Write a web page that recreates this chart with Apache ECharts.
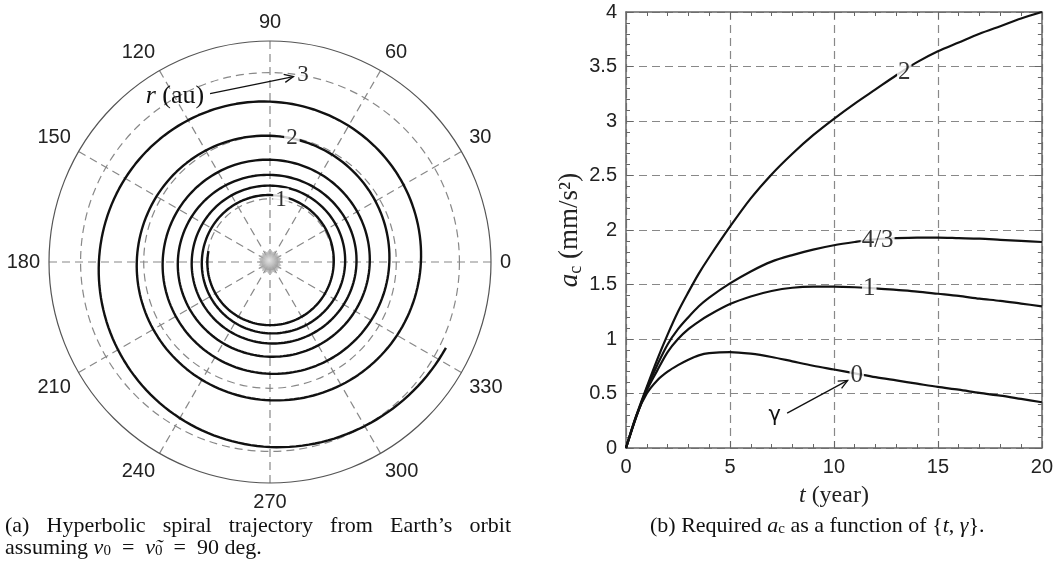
<!DOCTYPE html>
<html>
<head>
<meta charset="utf-8">
<script src="https://cdn.jsdelivr.net/npm/echarts@6/dist/echarts.min.js"></script>
<style>
html, body { margin: 0; padding: 0; background: #fff; }
#main { width: 1056px; height: 575px; }
</style>
</head>
<body>
<div id="main"></div>
<script>
// (a) 螺旋轨迹, 大致每 90 度读一个半径 (au)
var spiralAngle = [170, 225, 270, 0, 90, 180, 270, 0, 90, 180, 270, 0, 90, 180, 270, 0, 90, 180, 270, 0, 90, 180, 270, 0, 90, 180, 270, 300, 334];
var spiralR = [0.99, 1.00, 1.00, 1.01, 1.06, 1.08, 1.13, 1.19, 1.21, 1.24, 1.29, 1.37, 1.38, 1.46, 1.50, 1.58, 1.62, 1.70, 1.77, 1.89, 2.00, 2.11, 2.19, 2.39, 2.54, 2.71, 2.93, 3.00, 3.10];
var ringLabels = ['1', '2', '3'];
var ringR = [1, 2, 3];
var ringAngle = [80, 80, 80];

// (b) a_c (mm/s^2) 随 t (year)
var tYear = [0, 0.5, 1, 1.5, 2, 2.5, 3, 3.5, 4, 5, 6, 7, 8, 9, 10, 11, 12, 13, 14, 15, 16, 17, 18, 19, 20];
var acG2 = [0, 0.30, 0.56, 0.81, 1.04, 1.25, 1.43, 1.60, 1.75, 2.03, 2.29, 2.51, 2.70, 2.87, 3.02, 3.16, 3.29, 3.42, 3.54, 3.64, 3.72, 3.80, 3.87, 3.94, 4.00];
var acG43 = [0, 0.29, 0.55, 0.76, 0.95, 1.09, 1.20, 1.30, 1.38, 1.51, 1.62, 1.71, 1.77, 1.82, 1.86, 1.89, 1.915, 1.925, 1.93, 1.93, 1.925, 1.92, 1.91, 1.90, 1.89];
var acG1 = [0, 0.29, 0.53, 0.71, 0.88, 1.00, 1.09, 1.16, 1.22, 1.32, 1.39, 1.44, 1.47, 1.48, 1.48, 1.475, 1.465, 1.45, 1.435, 1.415, 1.395, 1.37, 1.35, 1.325, 1.30];
var acG0 = [0, 0.30, 0.50, 0.62, 0.70, 0.76, 0.81, 0.85, 0.87, 0.88, 0.865, 0.835, 0.795, 0.755, 0.72, 0.685, 0.65, 0.62, 0.59, 0.56, 0.535, 0.505, 0.48, 0.45, 0.42];
var gammaNames = ['2', '4/3', '1', '0'];
var gammaLabelT = [13.38, 12.1, 11.7, 11.1];
var gammaLabelA = [3.45, 1.90, 1.46, 0.67];

var SANS = 'Liberation Sans';
var SERIF = 'Liberation Serif';

function zip(xs, ys) {
    var out = [];
    for (var i = 0; i < xs.length; i++) {
        out.push([xs[i], ys[i]]);
    }
    return out;
}

// 太阳的锯齿形
function sunPath() {
    var n = 22, s = 'path://';
    for (var i = 0; i < n * 2; i++) {
        var r = i % 2 === 0 ? 10 : 8.2;
        var a = Math.PI * i / n;
        s += (i === 0 ? 'M' : 'L') + (r * Math.cos(a)).toFixed(2) + ',' + (r * Math.sin(a)).toFixed(2);
    }
    return s + 'Z';
}

// 螺旋线: 在角度上做 Hermite 平滑, 坐标交给 polar 换算
function renderSpiral(params, api) {
    if (params.dataIndex !== 0) return null;
    var th = [], acc = 0;
    for (var i = 0; i < spiralAngle.length; i++) {
        var a = spiralAngle[i] + acc;
        if (i > 0 && a < th[i - 1]) { acc += 360; a += 360; }
        th.push(a);
    }
    var n = th.length, m = [];
    for (var i = 0; i < n; i++) {
        var i0 = Math.max(0, i - 1), i1 = Math.min(n - 1, i + 1);
        m.push((spiralR[i1] - spiralR[i0]) / (th[i1] - th[i0]));
    }
    var pts = [];
    for (var i = 0; i < n - 1; i++) {
        var d = th[i + 1] - th[i];
        var steps = Math.max(2, Math.ceil(d / 2));
        for (var k = (i === 0 ? 0 : 1); k <= steps; k++) {
            var s = k / steps, s2 = s * s, s3 = s2 * s;
            var r = (2 * s3 - 3 * s2 + 1) * spiralR[i] + (s3 - 2 * s2 + s) * d * m[i] +
                (-2 * s3 + 3 * s2) * spiralR[i + 1] + (s3 - s2) * d * m[i + 1];
            pts.push(api.coord([r, (th[i] + s * d) % 360]));
        }
    }
    return {
        type: 'polyline',
        shape: { points: pts },
        style: { stroke: '#111', lineWidth: 2.4, fill: null, lineJoin: 'round' }
    };
}

var myChart = echarts.init(document.getElementById('main'));

var dashed = [8, 5];
var frameColor = '#666';

var curveSeries = [acG2, acG43, acG1, acG0].map(function (arr, k) {
    return {
        name: 'g' + gammaNames[k],
        type: 'line',
        xAxisIndex: 0,
        yAxisIndex: 0,
        data: zip(tYear, arr),
        smooth: 0.3,
        showSymbol: false,
        symbol: 'none',
        lineStyle: { color: '#111', width: 2.2 },
        z: 3
    };
});

var curveLabelData = [];
for (var i = 0; i < gammaNames.length; i++) {
    curveLabelData.push({ value: [gammaLabelT[i], gammaLabelA[i]], name: gammaNames[i] });
}

var option = {
    animation: false,
    backgroundColor: '#fff',
    polar: { center: [270, 262], radius: 221 },
    angleAxis: {
        type: 'value', min: 0, max: 360, interval: 30,
        startAngle: 0, clockwise: false,
        axisLine: { lineStyle: { color: '#555', width: 1.2 } },
        axisTick: { show: false },
        axisLabel: {
            fontFamily: SANS, fontSize: 20, color: '#222', margin: 9,
            formatter: function (v) { return v === 360 ? '' : v; }
        },
        splitLine: { show: true, lineStyle: { color: '#888', type: dashed, width: 1.2 } }
    },
    radiusAxis: {
        type: 'value', min: 0, max: 3.5, interval: 1,
        axisLine: { show: false }, axisTick: { show: false }, axisLabel: { show: false },
        splitLine: {
            show: true,
            lineStyle: { color: ['#888', '#888', '#888', '#888', 'rgba(0,0,0,0)'], type: dashed, width: 1.2 }
        }
    },
    grid: { left: 626, top: 12, width: 417, height: 436 },
    xAxis: [{
        type: 'value', min: 0, max: 20, interval: 5, position: 'bottom',
        axisLine: { onZero: false, lineStyle: { color: frameColor, width: 1.5 } },
        axisTick: { inside: true, length: 7, lineStyle: { color: frameColor } },
        minorTick: { show: true, splitNumber: 5, length: 4, lineStyle: { color: frameColor } },
        axisLabel: { fontFamily: SANS, fontSize: 20, color: '#222', margin: 9 },
        splitLine: { show: true, lineStyle: { color: '#888', type: dashed, width: 1.2 } },
        name: '{i|t} (year)', nameLocation: 'middle', nameGap: 36,
        nameTextStyle: {
            fontFamily: SERIF, fontSize: 24, color: '#222',
            rich: { i: { fontFamily: SERIF, fontStyle: 'italic', fontSize: 24, color: '#222' } }
        }
    }, {
        type: 'value', min: 0, max: 20, interval: 5, position: 'top',
        axisLine: { onZero: false, lineStyle: { color: frameColor, width: 1.5 } },
        axisTick: { inside: true, length: 7, lineStyle: { color: frameColor } },
        minorTick: { show: true, splitNumber: 5, length: 4, lineStyle: { color: frameColor } },
        axisLabel: { show: false },
        splitLine: { show: false }
    }],
    yAxis: [{
        type: 'value', min: 0, max: 4, interval: 0.5, position: 'left',
        axisLine: { onZero: false, lineStyle: { color: frameColor, width: 1.5 } },
        axisTick: { inside: true, length: 7, lineStyle: { color: frameColor } },
        minorTick: { show: true, splitNumber: 5, length: 4, lineStyle: { color: frameColor } },
        axisLabel: { fontFamily: SANS, fontSize: 20, color: '#222', margin: 9 },
        splitLine: { show: true, lineStyle: { color: '#888', type: dashed, width: 1.2 } },
        name: '{i|a}{s|c} (mm/s²)', nameLocation: 'middle', nameGap: 38, nameRotate: 90,
        nameTextStyle: {
            fontFamily: SERIF, fontSize: 27, color: '#222',
            rich: {
                i: { fontFamily: SERIF, fontStyle: 'italic', fontSize: 27, color: '#222', lineHeight: 31 },
                s: { fontFamily: SERIF, fontSize: 18, color: '#222', verticalAlign: 'bottom', lineHeight: 18 }
            }
        }
    }, {
        type: 'value', min: 0, max: 4, interval: 0.5, position: 'right',
        axisLine: { onZero: false, lineStyle: { color: frameColor, width: 1.5 } },
        axisTick: { inside: true, length: 7, lineStyle: { color: frameColor } },
        minorTick: { show: true, splitNumber: 5, length: 4, lineStyle: { color: frameColor } },
        axisLabel: { show: false },
        splitLine: { show: false }
    }],
    series: [{
        name: 'spiral',
        type: 'custom',
        coordinateSystem: 'polar',
        data: zip(spiralR, spiralAngle),
        renderItem: renderSpiral,
        z: 3
    }, {
        name: 'sunRays',
        type: 'scatter',
        coordinateSystem: 'polar',
        data: [[0, 0]],
        symbol: sunPath(),
        symbolSize: 24,
        itemStyle: { color: '#aaa' },
        z: 4
    }, {
        name: 'sun',
        type: 'scatter',
        coordinateSystem: 'polar',
        data: [[0, 0]],
        symbol: 'circle',
        symbolSize: 17,
        itemStyle: {
            color: {
                type: 'radial', x: 0.45, y: 0.4, r: 0.6,
                colorStops: [{ offset: 0, color: '#ececec' }, { offset: 1, color: '#9a9a9a' }]
            }
        },
        z: 5
    }, {
        name: 'rings',
        type: 'scatter',
        coordinateSystem: 'polar',
        data: ringLabels.map(function (s, i) { return { value: [ringR[i], ringAngle[i]], name: s }; }),
        symbolSize: 0,
        label: {
            show: true, position: 'inside', formatter: '{b}',
            fontFamily: SERIF, fontSize: 23, color: '#000',
            backgroundColor: '#fff', padding: [0, 2]
        },
        z: 6
    }].concat(curveSeries).concat([{
        name: 'gammaLabels',
        type: 'scatter',
        xAxisIndex: 0,
        yAxisIndex: 0,
        data: curveLabelData,
        symbolSize: 0,
        label: {
            show: true, position: 'inside', formatter: '{b}',
            fontFamily: SERIF, fontSize: 25, color: '#000',
            backgroundColor: '#fff', padding: [0, 1]
        },
        z: 6
    }])
};

myChart.setOption(option);

// 箭头和说明文字
function arrow(p0, p1) {
    var ang = Math.atan2(p1[1] - p0[1], p1[0] - p0[0]);
    var L = 10, w = 0.42;
    var st = { stroke: '#111', lineWidth: 1.3, fill: null };
    return [
        { type: 'polyline', shape: { points: [p0, p1] }, style: st, z: 10 },
        {
            type: 'polyline',
            shape: {
                points: [
                    [p1[0] - L * Math.cos(ang - w), p1[1] - L * Math.sin(ang - w)],
                    p1,
                    [p1[0] - L * Math.cos(ang + w), p1[1] - L * Math.sin(ang + w)]
                ]
            },
            style: st, z: 10
        }
    ];
}

var rText = myChart.convertToPixel({ seriesIndex: 1 }, [3.03, 119.8]);
var rTail = myChart.convertToPixel({ seriesIndex: 1 }, [2.83, 109.6]);
var rHead = myChart.convertToPixel({ seriesIndex: 1 }, [2.96, 82.8]);
var gText = myChart.convertToPixel({ seriesIndex: 4 }, [7.15, 0.30]);
var gTail = myChart.convertToPixel({ seriesIndex: 4 }, [7.75, 0.32]);
var gHead = myChart.convertToPixel({ seriesIndex: 4 }, [10.66, 0.62]);

var CAP_SIZE = 22;
var CAP_FONT = CAP_SIZE + 'px "Liberation Serif"';
var capRich = {
    i: { fontFamily: SERIF, fontStyle: 'italic', fontSize: CAP_SIZE, fill: '#111' },
    s: { fontFamily: SERIF, fontSize: 15, fill: '#111', verticalAlign: 'bottom', lineHeight: 15 }
};

// (a) 第一行两端对齐
var ctx = document.createElement('canvas').getContext('2d');
ctx.font = CAP_FONT;
var capWords = ['(a)', 'Hyperbolic', 'spiral', 'trajectory', 'from', 'Earth’s', 'orbit'];
var capLeft = 5, capRight = 511;
var wordW = capWords.map(function (w) { return ctx.measureText(w).width; });
var sumW = wordW.reduce(function (a, b) { return a + b; }, 0);
var gapW = (capRight - capLeft - sumW) / (capWords.length - 1);
var capLine1 = [];
var cx = capLeft;
for (var i = 0; i < capWords.length; i++) {
    capLine1.push({
        type: 'text', x: cx, y: 515, z: 10,
        style: { text: capWords[i], font: CAP_FONT, fill: '#111' }
    });
    cx += wordW[i] + gapW;
}

var graphics = [].concat(arrow(rTail, rHead), arrow(gTail, gHead), capLine1, [{
    type: 'text', x: rText[0], y: rText[1], z: 10,
    style: {
        text: '{i|r} (au)', font: '26px "Liberation Serif"', fill: '#111',
        align: 'center', verticalAlign: 'middle',
        rich: { i: { fontFamily: SERIF, fontStyle: 'italic', fontSize: 26, fill: '#111' } }
    }
}, {
    type: 'text', x: gText[0], y: gText[1], z: 10,
    style: { text: 'γ', font: '21px "DejaVu Sans"', fill: '#111', align: 'center', verticalAlign: 'middle' }
}, {
    type: 'text', x: 5, y: 537, z: 10,
    style: {
        text: 'assuming {i|ν}{s|0}\u2002=\u2002{i|ν̃}{s|0}\u2002=\u200290 deg.', font: CAP_FONT, fill: '#111',
        rich: capRich
    }
}, {
    type: 'text', x: 650, y: 515, z: 10,
    style: {
        text: '(b) Required {i|a}{s|c} as a function of {{i|t}, {i|γ}}.', font: CAP_FONT, fill: '#111',
        rich: capRich
    }
}]);

myChart.setOption({ graphic: graphics });
</script>
</body>
</html>
